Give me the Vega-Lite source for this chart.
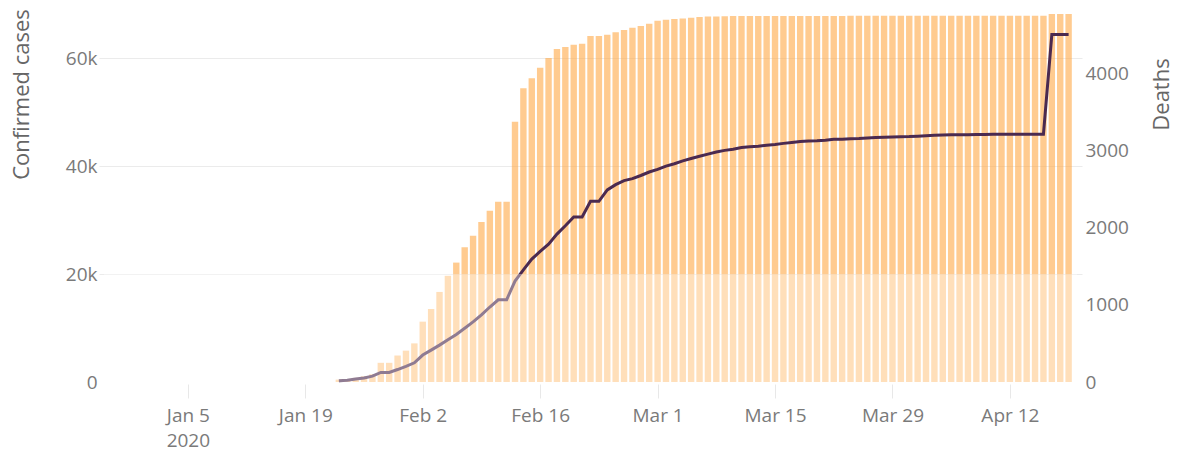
{
  "$schema": "https://vega.github.io/schema/vega-lite/v6.json",
  "autosize": {"type": "none"},
  "width": 983,
  "height": 378,
  "padding": {"left": 99, "top": 4, "right": 100, "bottom": 69},
  "background": "white",
  "config": {
    "view": {"stroke": null},
    "font": "Open Sans",
    "axis": {"labelFont": "Open Sans", "titleFont": "Open Sans", "labelColor": "#7a7a7a", "titleColor": "#666666", "labelFontSize": 19, "titleFontSize": 22, "titleFontWeight": "normal"}
  },
  "datasets": {
    "hubei": [
      {"date": "2020-01-23", "confirmed": 444, "deaths": 17},
      {"date": "2020-01-24", "confirmed": 549, "deaths": 24},
      {"date": "2020-01-25", "confirmed": 761, "deaths": 40},
      {"date": "2020-01-26", "confirmed": 1058, "deaths": 52},
      {"date": "2020-01-27", "confirmed": 1423, "deaths": 76},
      {"date": "2020-01-28", "confirmed": 3554, "deaths": 125},
      {"date": "2020-01-29", "confirmed": 3554, "deaths": 125},
      {"date": "2020-01-30", "confirmed": 4903, "deaths": 162},
      {"date": "2020-01-31", "confirmed": 5806, "deaths": 204},
      {"date": "2020-02-01", "confirmed": 7153, "deaths": 249},
      {"date": "2020-02-02", "confirmed": 11177, "deaths": 350},
      {"date": "2020-02-03", "confirmed": 13522, "deaths": 414},
      {"date": "2020-02-04", "confirmed": 16678, "deaths": 479},
      {"date": "2020-02-05", "confirmed": 19665, "deaths": 549},
      {"date": "2020-02-06", "confirmed": 22112, "deaths": 618},
      {"date": "2020-02-07", "confirmed": 24953, "deaths": 699},
      {"date": "2020-02-08", "confirmed": 27100, "deaths": 780},
      {"date": "2020-02-09", "confirmed": 29631, "deaths": 871},
      {"date": "2020-02-10", "confirmed": 31728, "deaths": 974},
      {"date": "2020-02-11", "confirmed": 33366, "deaths": 1068},
      {"date": "2020-02-12", "confirmed": 33366, "deaths": 1068},
      {"date": "2020-02-13", "confirmed": 48206, "deaths": 1310},
      {"date": "2020-02-14", "confirmed": 54406, "deaths": 1457},
      {"date": "2020-02-15", "confirmed": 56249, "deaths": 1596},
      {"date": "2020-02-16", "confirmed": 58182, "deaths": 1696},
      {"date": "2020-02-17", "confirmed": 59989, "deaths": 1789},
      {"date": "2020-02-18", "confirmed": 61682, "deaths": 1921},
      {"date": "2020-02-19", "confirmed": 62031, "deaths": 2029},
      {"date": "2020-02-20", "confirmed": 62442, "deaths": 2144},
      {"date": "2020-02-21", "confirmed": 62662, "deaths": 2144},
      {"date": "2020-02-22", "confirmed": 64084, "deaths": 2346},
      {"date": "2020-02-23", "confirmed": 64084, "deaths": 2346},
      {"date": "2020-02-24", "confirmed": 64287, "deaths": 2495},
      {"date": "2020-02-25", "confirmed": 64786, "deaths": 2563},
      {"date": "2020-02-26", "confirmed": 65187, "deaths": 2615},
      {"date": "2020-02-27", "confirmed": 65596, "deaths": 2641},
      {"date": "2020-02-28", "confirmed": 65914, "deaths": 2682},
      {"date": "2020-02-29", "confirmed": 66337, "deaths": 2727},
      {"date": "2020-03-01", "confirmed": 66907, "deaths": 2761},
      {"date": "2020-03-02", "confirmed": 67103, "deaths": 2803},
      {"date": "2020-03-03", "confirmed": 67217, "deaths": 2835},
      {"date": "2020-03-04", "confirmed": 67332, "deaths": 2871},
      {"date": "2020-03-05", "confirmed": 67466, "deaths": 2902},
      {"date": "2020-03-06", "confirmed": 67592, "deaths": 2931},
      {"date": "2020-03-07", "confirmed": 67666, "deaths": 2959},
      {"date": "2020-03-08", "confirmed": 67707, "deaths": 2986},
      {"date": "2020-03-09", "confirmed": 67743, "deaths": 3008},
      {"date": "2020-03-10", "confirmed": 67760, "deaths": 3024},
      {"date": "2020-03-11", "confirmed": 67773, "deaths": 3046},
      {"date": "2020-03-12", "confirmed": 67781, "deaths": 3056},
      {"date": "2020-03-13", "confirmed": 67786, "deaths": 3062},
      {"date": "2020-03-14", "confirmed": 67790, "deaths": 3075},
      {"date": "2020-03-15", "confirmed": 67794, "deaths": 3085},
      {"date": "2020-03-16", "confirmed": 67798, "deaths": 3099},
      {"date": "2020-03-17", "confirmed": 67799, "deaths": 3111},
      {"date": "2020-03-18", "confirmed": 67800, "deaths": 3122},
      {"date": "2020-03-19", "confirmed": 67800, "deaths": 3130},
      {"date": "2020-03-20", "confirmed": 67800, "deaths": 3133},
      {"date": "2020-03-21", "confirmed": 67800, "deaths": 3139},
      {"date": "2020-03-22", "confirmed": 67800, "deaths": 3153},
      {"date": "2020-03-23", "confirmed": 67800, "deaths": 3153},
      {"date": "2020-03-24", "confirmed": 67801, "deaths": 3160},
      {"date": "2020-03-25", "confirmed": 67801, "deaths": 3163},
      {"date": "2020-03-26", "confirmed": 67801, "deaths": 3169},
      {"date": "2020-03-27", "confirmed": 67801, "deaths": 3174},
      {"date": "2020-03-28", "confirmed": 67801, "deaths": 3177},
      {"date": "2020-03-29", "confirmed": 67801, "deaths": 3182},
      {"date": "2020-03-30", "confirmed": 67801, "deaths": 3186},
      {"date": "2020-03-31", "confirmed": 67801, "deaths": 3187},
      {"date": "2020-04-01", "confirmed": 67802, "deaths": 3193},
      {"date": "2020-04-02", "confirmed": 67802, "deaths": 3199},
      {"date": "2020-04-03", "confirmed": 67802, "deaths": 3203},
      {"date": "2020-04-04", "confirmed": 67803, "deaths": 3207},
      {"date": "2020-04-05", "confirmed": 67803, "deaths": 3210},
      {"date": "2020-04-06", "confirmed": 67803, "deaths": 3212},
      {"date": "2020-04-07", "confirmed": 67803, "deaths": 3212},
      {"date": "2020-04-08", "confirmed": 67803, "deaths": 3213},
      {"date": "2020-04-09", "confirmed": 67803, "deaths": 3215},
      {"date": "2020-04-10", "confirmed": 67803, "deaths": 3216},
      {"date": "2020-04-11", "confirmed": 67803, "deaths": 3219},
      {"date": "2020-04-12", "confirmed": 67803, "deaths": 3219},
      {"date": "2020-04-13", "confirmed": 67803, "deaths": 3219},
      {"date": "2020-04-14", "confirmed": 67803, "deaths": 3219},
      {"date": "2020-04-15", "confirmed": 67803, "deaths": 3219},
      {"date": "2020-04-16", "confirmed": 67803, "deaths": 3219},
      {"date": "2020-04-17", "confirmed": 68128, "deaths": 4512},
      {"date": "2020-04-18", "confirmed": 68128, "deaths": 4512},
      {"date": "2020-04-19", "confirmed": 68128, "deaths": 4512}
    ],
    "band": [
      {"start": "2019-12-26", "end": "2020-04-20", "low": 0, "high": 20000}
    ]
  },
  "layer": [
    {
      "data": {"name": "hubei"},
      "mark": {"type": "bar", "width": 6.4, "color": "#ffa640", "opacity": 0.58},
      "encoding": {
        "x": {
          "field": "date", "type": "temporal",
          "scale": {"type": "utc", "domain": [1577318400000, 1587340800000], "nice": false},
          "axis": {
            "title": null, "domain": false, "grid": false,
            "values": [1578182400000, 1579392000000, 1580601600000, 1581811200000, 1583020800000, 1584230400000, 1585440000000, 1586649600000],
            "labelExpr": "time(datum.value) == 1578182400000 ? ['Jan 5', '2020'] : utcFormat(datum.value, '%b %-d')",
            "labelLineHeight": 25,
            "ticks": true, "tickColor": "#e8e8e8", "tickSize": 14, "offset": 2, "labelPadding": 8,
            "labelFlush": false, "labelOverlap": false
          }
        },
        "y": {
          "field": "confirmed", "type": "quantitative",
          "scale": {"domain": [0, 70000], "nice": false, "zero": true},
          "axis": {
            "orient": "left", "title": "Confirmed cases",
            "values": [0, 20000, 40000, 60000],
            "labelExpr": "datum.value == 0 ? '0' : (datum.value / 1000) + 'k'",
            "domain": false, "ticks": false, "labelPadding": 2,
            "grid": true, "gridColor": "#ebebeb",
            "gridOpacity": {"condition": {"test": "datum.value === 0", "value": 0}, "value": 1},
            "titleAngle": 270, "titleX": -78, "titleY": 90, "titleAlign": "center", "titleBaseline": "middle"
          }
        }
      }
    },
    {
      "data": {"name": "hubei"},
      "mark": {"type": "line", "color": "#4b2a50", "strokeWidth": 3, "interpolate": "linear"},
      "encoding": {
        "x": {"field": "date", "type": "temporal"},
        "y": {
          "field": "deaths", "type": "quantitative",
          "scale": {"domain": [0, 4909], "nice": false, "zero": true},
          "axis": {
            "orient": "right", "title": "Deaths", "format": "d",
            "values": [0, 1000, 2000, 3000, 4000],
            "domain": false, "ticks": false, "labelPadding": 3, "grid": false,
            "titleAngle": 270, "titleX": 79, "titleY": 90, "titleAlign": "center", "titleBaseline": "middle"
          }
        }
      }
    },
    {
      "data": {"name": "band"},
      "mark": {"type": "rect", "color": "white", "opacity": 0.38},
      "encoding": {
        "x": {"field": "start", "type": "temporal"},
        "x2": {"field": "end"},
        "y": {"field": "low", "type": "quantitative", "scale": {"domain": [0, 70000], "nice": false}, "axis": null},
        "y2": {"field": "high"}
      }
    }
  ],
  "resolve": {"scale": {"y": "independent"}}
}
